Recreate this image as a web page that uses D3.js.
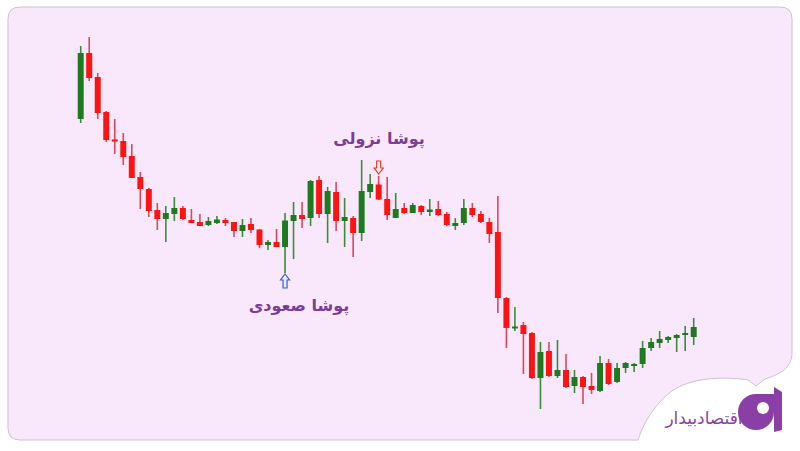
<!DOCTYPE html>
<html><head><meta charset="utf-8">
<script src="https://cdn.jsdelivr.net/npm/d3@7"></script>
<style>html,body{margin:0;padding:0;background:#fff;}svg{display:block;}</style>
</head><body>
<svg id="c" width="800" height="451"></svg>
<script>
// candle index
const categories = d3.range(1, 74);
const opens  = [341,407,383,348,320.5,319,304,283,271,250,241,246,252,240,238,235,237,240,238,229,236,230.5,215,218,213,239,245,242,280,246,268,239,242,227,268,275.5,261,242,252,247,254,248,251,246,234,237,252,246,238,228,162,131.5,135,127,82,109,84,90,74,83,74,69,97,78,92,94,96,112,117,120,122,125,123];
const highs  = [414,423,387,349,341,327,316,288,272,257,254,263,254,251,246,243,244,242,238,241,242,231,220,231,247,258,258,280,284,273,278,262,244,300,286,284,283,267,257,257,255,261,259,248,242,261,257,249,242,264,163,153,138,128,118,118,120,106,90,84,87,104,101,97,98,97,119,122,129,124,126,134,142];
const lows   = [337,379,341,318,306,295,282,251,243,230,218,239,240,237,234,234,236,234,223,223,227,212,210,213,187,201,232,234,242,217,229,213,203,219,262,260,240,242,246,247,245,244,244,234,230,235,243,237,217,147,112,129,86,81,51,83,82,72,67,56,66,68,75,77,87,88,92,109,112,117,108,109,115];
const closes = [407,382,347,320,318.5,303,282,271,249,241,247,252,241,237,234,239,240.5,237,229,235,230,215,218,213,239.5,245,241,279,246,269,239,243,227,269,276,260.5,245,251,247,255,248,250.5,245,235,237,252,245,238,226,162,132,133.5,126,82,108,84,90,73,83,73,70,97,76,92,97,96,112,118,121,123,125,127,133];
const annotations = [
  {label: "پوشا صعودی", candle: 25, dir: "up"},
  {label: "پوشا نزولی", candle: 36, dir: "down"}
];
const brand = "اقتصادبیدار";

const data = categories.map((c, i) => ({c, o: opens[i], h: highs[i], l: lows[i], cl: closes[i]}));

const svg = d3.select("#c");

// background panel with bottom-right cut-out
svg.append("path")
  .attr("d", "M20,7 H780 Q792,7 792,19 V352 C792,366 784,373 765,379 L756,386 L748,380 C722,376 690,378 672,391 C656,403 644,421 638,440 H20 Q8,440 8,428 V19 Q8,7 20,7 Z")
  .attr("fill", "#f9e8fb").attr("stroke", "#cfc0d6").attr("stroke-width", 1);

const step = 613 / 72;
const x = d3.scaleBand().domain(categories).range([80.7 - step / 2, 693.7 + step / 2]).paddingInner(0.3).paddingOuter(0.15);
const y = d3.scaleLinear().domain([0, 460]).range([460, 0]);

const GREEN = "#1f7a1f", GREEN_W = "#3b8b3b", RED = "#ff1212", RED_W = "#e2435a";
const g = svg.append("g");
const cx = d => x(d.c) + x.bandwidth() / 2;

g.selectAll("line.w").data(data).join("line")
  .attr("x1", cx).attr("x2", cx)
  .attr("y1", d => y(d.h)).attr("y2", d => y(d.l))
  .attr("stroke", d => d.cl >= d.o ? GREEN_W : RED_W).attr("stroke-width", 1.6);

g.selectAll("rect.b").data(data).join("rect")
  .attr("x", d => x(d.c)).attr("width", x.bandwidth())
  .attr("y", d => y(Math.max(d.o, d.cl)))
  .attr("height", d => Math.max(2, Math.abs(y(d.o) - y(d.cl))))
  .attr("fill", d => d.cl >= d.o ? GREEN : RED);

// annotation arrows and labels
annotations.forEach(a => {
  const d = data[a.candle - 1];
  const px = cx(d);
  if (a.dir === "up") {
    const top = y(d.l) + 1;
    svg.append("path")
      .attr("d", `M${px},${top} L${px + 4.5},${top + 6} L${px + 2},${top + 6} L${px + 2},${top + 14} L${px - 2},${top + 14} L${px - 2},${top + 6} L${px - 4.5},${top + 6} Z`)
      .attr("fill", "#e8ecff").attr("stroke", "#3d5bd8").attr("stroke-width", 1.2);
    svg.append("text").attr("x", 299).attr("y", 311)
      .attr("text-anchor", "middle").attr("font-family", "DejaVu Sans").attr("font-weight", "bold")
      .attr("font-size", 16).attr("fill", "#7d3c98").attr("direction", "rtl").attr("unicode-bidi", "plaintext")
      .text(a.label);
  } else {
    const bot = y(d.h) - 2;
    svg.append("path")
      .attr("d", `M${px},${bot} L${px + 4.5},${bot - 6} L${px + 2},${bot - 6} L${px + 2},${bot - 13} L${px - 2},${bot - 13} L${px - 2},${bot - 6} L${px - 4.5},${bot - 6} Z`)
      .attr("fill", "#fff0f0").attr("stroke", "#e53935").attr("stroke-width", 1.2);
    svg.append("text").attr("x", 379).attr("y", 144)
      .attr("text-anchor", "middle").attr("font-family", "DejaVu Sans").attr("font-weight", "bold")
      .attr("font-size", 16).attr("fill", "#7d3c98").attr("direction", "rtl").attr("unicode-bidi", "plaintext")
      .text(a.label);
  }
});

// logo
const logo = svg.append("g");
logo.append("path")
  .attr("d", "M774,412 A18,18 0 1 1 756,394 L774,394 Z")
  .attr("fill", "#8a3fa6");
logo.append("circle").attr("cx", 763).attr("cy", 408).attr("r", 6).attr("fill", "#fff");
logo.append("path")
  .attr("d", "M774,387 L782,392 L782,430 L774,432 Z")
  .attr("fill", "#8a3fa6");
logo.append("text").attr("x", 704).attr("y", 424)
  .attr("text-anchor", "middle").attr("font-family", "DejaVu Sans").attr("font-size", 17)
  .attr("fill", "#8a3fa6").attr("direction", "rtl").attr("unicode-bidi", "plaintext")
  .text(brand);
</script>
</body></html>
